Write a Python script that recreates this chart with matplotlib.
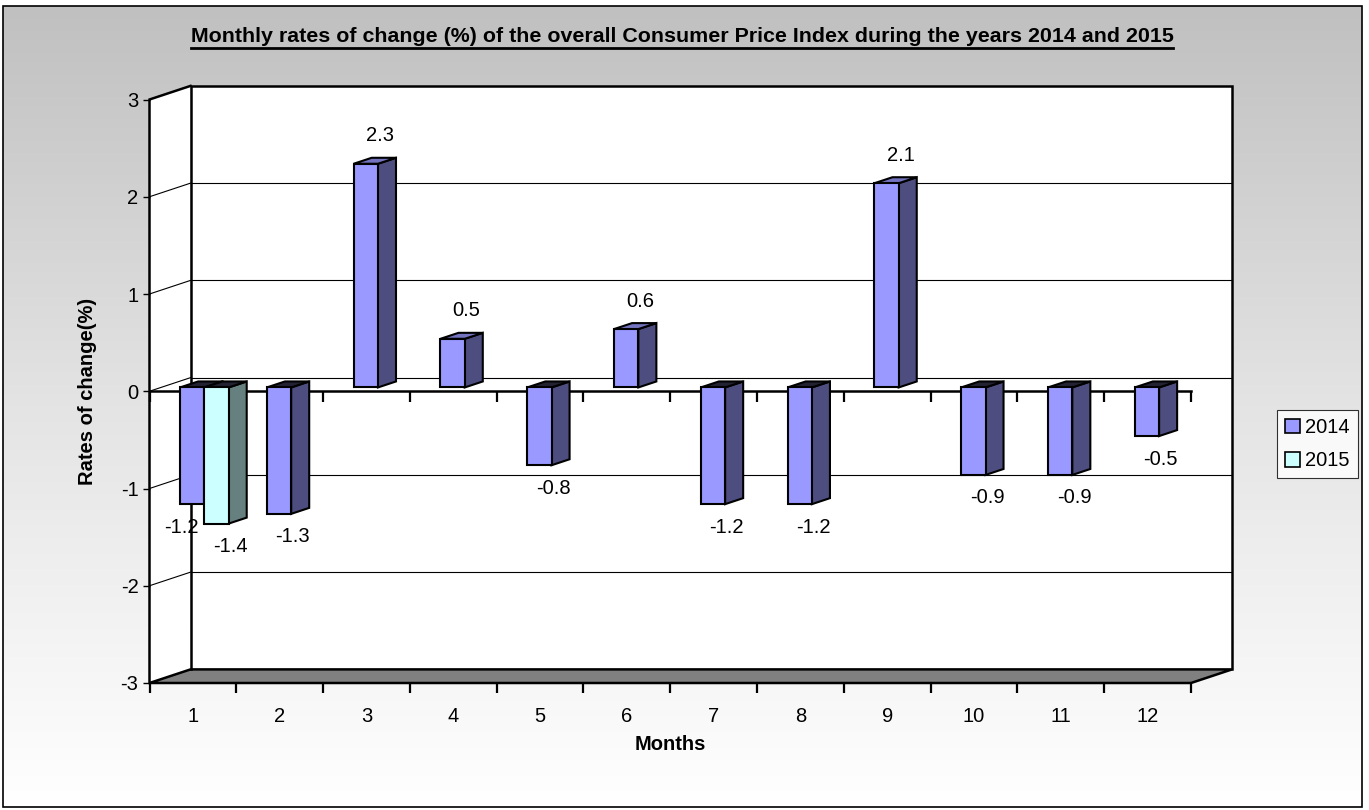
import numpy as np
import matplotlib
matplotlib.use('Agg')
import matplotlib.pyplot as plt
from matplotlib.patches import Polygon, Rectangle, Patch
from matplotlib.colors import LinearSegmentedColormap

# Monthly CPI change (%)
months = list(range(1, 13))
cpi_2014 = [-1.2, -1.3, 2.3, 0.5, -0.8, 0.6, -1.2, -1.2, 2.1, -0.9, -0.9, -0.5]
cpi_2015 = [-1.4]          # only January published so far
y_ticks = [-3, -2, -1, 0, 1, 2, 3]
series = ['2014', '2015']

plt.rcParams['font.family'] = ['Liberation Sans', 'DejaVu Sans']
FS = 14.5

W, H = 1369, 810
fig = plt.figure(figsize=(W / 100, H / 100), dpi=100)

# grey-to-white chart area with a thin frame
bg = fig.add_axes([0, 0, 1, 1], zorder=-10)
bg.set_xlim(0, W)
bg.set_ylim(H, 0)
bg.axis('off')
grad = np.linspace(0, 1, 256)[:, None]
cmap = LinearSegmentedColormap.from_list('bg', ['#c0c0c0', '#e4e4e4', '#ffffff'])
bg.imshow(grad, cmap=cmap, extent=[3, 1362, 807, 6], aspect='auto')
bg.add_patch(Rectangle((3, 6), 1359, 801, fill=False, ec='black', lw=1.2))

# pseudo 3-D box: front face and depth offset in pixels
fx0, fx1 = 149.5, 1191.0
fy_top, fy_bot = 99.5, 683.0
dx_px, dy_px = 41.0, 13.6
px_per_cat = (fx1 - fx0) / 12
px_per_val = (fy_bot - fy_top) / 6
DX = dx_px / px_per_cat
DY = dy_px / px_per_val

ax = fig.add_axes([fx0 / W, 1 - fy_bot / H,
                   (fx1 + dx_px - fx0) / W, (fy_bot - fy_top + dy_px) / H])
ax.set_xlim(0.5, 12.5 + DX)
ax.set_ylim(-3, 3 + DY)
ax.patch.set_alpha(0)
for s in ax.spines.values():
    s.set_visible(False)

lo, hi = 0.5, 12.5
thick = 1.8

# walls
ax.add_patch(Rectangle((lo + DX, -3 + DY), hi - lo, 6, fc='white', ec='none', zorder=1))
ax.add_patch(Polygon([(lo, -3), (lo, 3), (lo + DX, 3 + DY), (lo + DX, -3 + DY)],
                     closed=True, fc='white', ec='none', zorder=1))
# gridlines on back and side walls
for v in y_ticks[1:-1]:
    ax.plot([lo + DX, hi + DX], [v + DY, v + DY], color='black', lw=0.8, zorder=2)
    ax.plot([lo, lo + DX], [v, v + DY], color='black', lw=0.8, zorder=2)
# floor
ax.add_patch(Polygon([(lo, -3), (hi, -3), (hi + DX, -3 + DY), (lo + DX, -3 + DY)],
                     closed=True, fc='#808080', ec='black', lw=thick, zorder=2,
                     clip_on=False))
# wall edges
ax.plot([lo + DX, lo + DX, hi + DX, hi + DX], [-3 + DY, 3 + DY, 3 + DY, -3 + DY],
        color='black', lw=thick, zorder=2, solid_joinstyle='miter', clip_on=False)
ax.plot([lo, lo, lo + DX], [-3, 3, 3 + DY], color='black', lw=thick, zorder=9,
        solid_joinstyle='miter', clip_on=False)

# category axis at zero
bounds = np.arange(0.5, 13.0, 1.0)
ax.plot([lo, hi], [0, 0], color='black', lw=thick, zorder=3, clip_on=False)
ax.vlines(bounds, -11 / px_per_val, 0, color='black', lw=1.6, zorder=3, clip_on=False)

# bars
w = 0.28
d_front, d_back = 0.28, 0.72
styles = {
    '2014': dict(front='#9999ff', side='#4d4d80', top='#7373bf'),
    '2015': dict(front='#ccffff', side='#668080', top='#99bfbf'),
}

bars = []
for i, m in enumerate(months):
    paired = i < len(cpi_2015)
    bars.append(('2014', m - w, cpi_2014[i], -0.12 if paired else 0.16))
    if paired:
        bars.append(('2015', m, cpi_2015[i], 0.16))

z = 4
for name, xl, v, nudge in bars:
    st = styles[name]
    xr = xl + w
    yt, yb = max(v, 0), min(v, 0)
    f0x, f0y = d_front * DX, d_front * DY
    b0x, b0y = d_back * DX, d_back * DY
    side = [(xr + f0x, yb + f0y), (xr + f0x, yt + f0y), (xr + b0x, yt + b0y), (xr + b0x, yb + b0y)]
    top = [(xl + f0x, yt + f0y), (xr + f0x, yt + f0y), (xr + b0x, yt + b0y), (xl + b0x, yt + b0y)]
    top_c = st['top'] if v > 0 else '#222233'
    ax.add_patch(Polygon(side, closed=True, fc=st['side'], ec='black', lw=1.5, zorder=z))
    ax.add_patch(Polygon(top, closed=True, fc=top_c, ec='black', lw=1.5, zorder=z))
    ax.bar(xl + f0x, v, width=w, bottom=f0y, align='edge', color=st['front'],
           edgecolor='black', linewidth=1.5, zorder=z + 1)
    # value label
    lx = xl + w / 2 + f0x + nudge
    if v >= 0:
        ly = v + f0y + 28 / px_per_val
    else:
        ly = v + f0y - 23 / px_per_val
    ax.text(lx, ly, f'{v:.1f}', ha='center', va='center', fontsize=FS, zorder=20)
    z += 2

# ticks
ax.set_yticks(y_ticks)
ax.set_yticklabels([str(t) for t in y_ticks])
ax.tick_params(axis='y', length=5, width=1, pad=3, labelsize=FS)
ax.set_xticks(months)
ax.set_xticklabels([str(m) for m in months])
ax.set_xticks(bounds, minor=True)
ax.tick_params(axis='x', which='major', length=0, pad=17, labelsize=FS)
ax.tick_params(axis='x', which='minor', length=7.5, width=1.6)

fig.text(88 / W, 1 - 391 / H, 'Rates of change(%)', rotation=90, ha='center', va='center',
         fontsize=FS, fontweight='bold')
fig.text(670 / W, 1 - 745 / H, 'Months', ha='center', va='center',
         fontsize=FS, fontweight='bold')

title = fig.text(682 / W, 1 - 37 / H,
                 'Monthly rates of change (%) of the overall Consumer Price Index during the years 2014 and 2015',
                 ha='center', va='center', fontsize=15.4, fontweight='bold')
fig.canvas.draw()
bb = title.get_window_extent()
uy = bb.y0 - 1.5
fig.add_artist(plt.Line2D([bb.x0 / W, bb.x1 / W], [uy / H, uy / H], color='black', lw=2.0,
                          transform=fig.transFigure))

handles = [Patch(facecolor=styles[s]['front'], edgecolor='black', linewidth=1.2) for s in series]
leg = fig.legend(handles, series, loc='upper left', bbox_to_anchor=(1277 / W, 1 - 410 / H),
                 fontsize=FS, frameon=True, fancybox=False, edgecolor='black',
                 handlelength=0.75, handleheight=0.75, handletextpad=0.25,
                 borderpad=0.4, labelspacing=0.7, borderaxespad=0)
leg.get_frame().set_linewidth(0.8)

fig.savefig('out.png', dpi=100)
